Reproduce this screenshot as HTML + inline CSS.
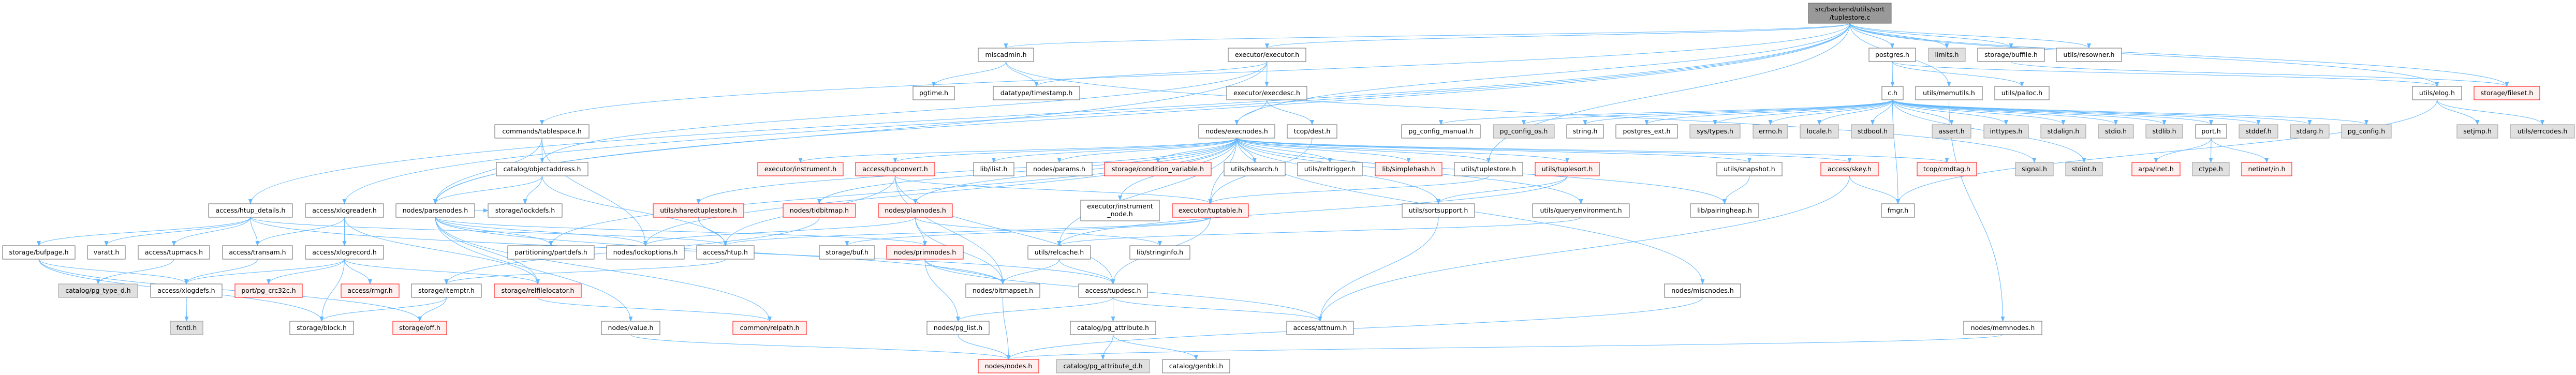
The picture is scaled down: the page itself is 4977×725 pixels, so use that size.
<!DOCTYPE html>
<html><head><meta charset="utf-8">
<style>
html,body{margin:0;padding:0;background:#fff;}
svg{display:block;}
text{font-family:"DejaVu Sans","Liberation Sans",sans-serif;font-size:12.5px;fill:#000;text-anchor:middle;}
.n rect{fill:#fff;stroke:#666;stroke-width:1;}
.r rect{fill:#fff0f0;stroke:#f00;stroke-width:1;}
.g rect{fill:#e0e0e0;stroke:#999;stroke-width:1;}
.root rect{fill:#999;stroke:#666;stroke-width:1;}
#edges path{fill:none;stroke:#63b8ff;stroke-width:1;}
</style></head>
<body>
<svg id="s" width="4977" height="725" viewBox="0 0 4977 725" xmlns="http://www.w3.org/2000/svg">
<defs><marker id="a" markerWidth="10" markerHeight="8" refX="9" refY="4" orient="auto" markerUnits="userSpaceOnUse"><path d="M0,0 L10,4 L0,8 z" fill="#63b8ff"/></marker></defs>
<g id="edges"></g>
<g id="nodes">
<g class="root" id="root"><rect x="3494" y="6" width="160" height="39"/><text x="3574" y="22">src/backend/utils/sort</text><text x="3574" y="38">/tuplestore.c</text></g>

<g class="n" id="miscadmin"><rect x="1890" y="93" width="107" height="26"/><text x="1943.5" y="110">miscadmin.h</text></g>
<g class="n" id="executor"><rect x="2373" y="93" width="150" height="26"/><text x="2448" y="110">executor/executor.h</text></g>
<g class="n" id="postgres"><rect x="3611" y="93" width="90" height="26"/><text x="3656" y="110">postgres.h</text></g>
<g class="g" id="limits"><rect x="3726" y="93" width="71" height="26"/><text x="3761.5" y="110">limits.h</text></g>
<g class="n" id="buffile"><rect x="3821" y="93" width="129" height="26"/><text x="3885.5" y="110">storage/buffile.h</text></g>
<g class="n" id="resowner"><rect x="3973" y="93" width="126" height="26"/><text x="4036" y="110">utils/resowner.h</text></g>

<g class="n" id="pgtime"><rect x="1764" y="167" width="80" height="26"/><text x="1804" y="184">pgtime.h</text></g>
<g class="n" id="timestamp"><rect x="1919" y="167" width="167" height="26"/><text x="2002.5" y="184">datatype/timestamp.h</text></g>
<g class="n" id="execdesc"><rect x="2370" y="167" width="155" height="26"/><text x="2447.5" y="184">executor/execdesc.h</text></g>
<g class="n" id="ch"><rect x="3636" y="167" width="41" height="26"/><text x="3656.5" y="184">c.h</text></g>
<g class="n" id="memutils"><rect x="3701" y="167" width="129" height="26"/><text x="3765.5" y="184">utils/memutils.h</text></g>
<g class="n" id="palloc"><rect x="3854" y="167" width="105" height="26"/><text x="3906.5" y="184">utils/palloc.h</text></g>
<g class="n" id="elog"><rect x="4661" y="167" width="95" height="26"/><text x="4708.5" y="184">utils/elog.h</text></g>
<g class="r" id="fileset"><rect x="4780" y="167" width="127" height="26"/><text x="4843.5" y="184">storage/fileset.h</text></g>

<g class="n" id="tablespace"><rect x="956" y="241" width="182" height="26"/><text x="1047" y="258">commands/tablespace.h</text></g>
<g class="n" id="execnodes"><rect x="2316" y="241" width="147" height="26"/><text x="2389.5" y="258">nodes/execnodes.h</text></g>
<g class="n" id="dest"><rect x="2487" y="241" width="96" height="26"/><text x="2535" y="258">tcop/dest.h</text></g>
<g class="n" id="pgcm"><rect x="2708" y="241" width="152" height="26"/><text x="2784" y="258">pg_config_manual.h</text></g>
<g class="g" id="pgcos"><rect x="2885" y="241" width="118" height="26"/><text x="2944" y="258">pg_config_os.h</text></g>
<g class="n" id="string"><rect x="3027" y="241" width="71" height="26"/><text x="3062.5" y="258">string.h</text></g>
<g class="n" id="pgext"><rect x="3122" y="241" width="119" height="26"/><text x="3181.5" y="258">postgres_ext.h</text></g>
<g class="g" id="systypes"><rect x="3265" y="241" width="97" height="26"/><text x="3313.5" y="258">sys/types.h</text></g>
<g class="g" id="errno"><rect x="3387" y="241" width="67" height="26"/><text x="3420.5" y="258">errno.h</text></g>
<g class="g" id="locale"><rect x="3478" y="241" width="74" height="26"/><text x="3515" y="258">locale.h</text></g>
<g class="g" id="stdbool"><rect x="3577" y="241" width="82" height="26"/><text x="3618" y="258">stdbool.h</text></g>
<g class="g" id="assert"><rect x="3733" y="241" width="75" height="26"/><text x="3770.5" y="258">assert.h</text></g>
<g class="g" id="inttypes"><rect x="3833" y="241" width="86" height="26"/><text x="3876" y="258">inttypes.h</text></g>
<g class="g" id="stdalign"><rect x="3943" y="241" width="87" height="26"/><text x="3986.5" y="258">stdalign.h</text></g>
<g class="g" id="stdio"><rect x="4054" y="241" width="68" height="26"/><text x="4088" y="258">stdio.h</text></g>
<g class="g" id="stdlib"><rect x="4146" y="241" width="71" height="26"/><text x="4181.5" y="258">stdlib.h</text></g>
<g class="n" id="port"><rect x="4242" y="241" width="60" height="26"/><text x="4272" y="258">port.h</text></g>
<g class="g" id="stddef"><rect x="4326" y="241" width="75" height="26"/><text x="4363.5" y="258">stddef.h</text></g>
<g class="g" id="stdarg"><rect x="4425" y="241" width="75" height="26"/><text x="4462.5" y="258">stdarg.h</text></g>
<g class="g" id="pgconfig"><rect x="4524" y="241" width="96" height="26"/><text x="4572" y="258">pg_config.h</text></g>
<g class="g" id="setjmp"><rect x="4747" y="241" width="79" height="26"/><text x="4786.5" y="258">setjmp.h</text></g>
<g class="g" id="errcodes"><rect x="4850" y="241" width="124" height="26"/><text x="4912" y="258">utils/errcodes.h</text></g>

<g class="n" id="objaddr"><rect x="959" y="314" width="177" height="26"/><text x="1047.5" y="331">catalog/objectaddress.h</text></g>
<g class="r" id="instrument"><rect x="1464" y="314" width="165" height="26"/><text x="1546.5" y="331">executor/instrument.h</text></g>
<g class="r" id="tupconvert"><rect x="1653" y="314" width="153" height="26"/><text x="1729.5" y="331">access/tupconvert.h</text></g>
<g class="n" id="ilist"><rect x="1881" y="314" width="78" height="26"/><text x="1920" y="331">lib/ilist.h</text></g>
<g class="n" id="params"><rect x="1983" y="314" width="127" height="26"/><text x="2046.5" y="331">nodes/params.h</text></g>
<g class="r" id="condvar"><rect x="2134" y="314" width="206" height="26"/><text x="2237" y="331">storage/condition_variable.h</text></g>
<g class="n" id="hsearch"><rect x="2365" y="314" width="118" height="26"/><text x="2424" y="331">utils/hsearch.h</text></g>
<g class="n" id="reltrigger"><rect x="2507" y="314" width="125" height="26"/><text x="2569.5" y="331">utils/reltrigger.h</text></g>
<g class="r" id="simplehash"><rect x="2657" y="314" width="129" height="26"/><text x="2721.5" y="331">lib/simplehash.h</text></g>
<g class="n" id="tuplestore"><rect x="2810" y="314" width="132" height="26"/><text x="2876" y="331">utils/tuplestore.h</text></g>
<g class="r" id="tuplesort"><rect x="2966" y="314" width="124" height="26"/><text x="3028" y="331">utils/tuplesort.h</text></g>
<g class="n" id="snapshot"><rect x="3317" y="314" width="126" height="26"/><text x="3380" y="331">utils/snapshot.h</text></g>
<g class="r" id="skey"><rect x="3518" y="314" width="111" height="26"/><text x="3573.5" y="331">access/skey.h</text></g>
<g class="r" id="cmdtag"><rect x="3704" y="314" width="115" height="26"/><text x="3761.5" y="331">tcop/cmdtag.h</text></g>
<g class="g" id="signal"><rect x="3894" y="314" width="73" height="26"/><text x="3930.5" y="331">signal.h</text></g>
<g class="g" id="stdint"><rect x="3991" y="314" width="71" height="26"/><text x="4026.5" y="331">stdint.h</text></g>
<g class="r" id="arpa"><rect x="4119" y="314" width="93" height="26"/><text x="4165.5" y="331">arpa/inet.h</text></g>
<g class="g" id="ctype"><rect x="4236" y="314" width="71" height="26"/><text x="4271.5" y="331">ctype.h</text></g>
<g class="r" id="netinet"><rect x="4331" y="314" width="97" height="26"/><text x="4379.5" y="331">netinet/in.h</text></g>

<g class="n" id="htupdet"><rect x="403" y="394" width="162" height="26"/><text x="484" y="411">access/htup_details.h</text></g>
<g class="n" id="xlogreader"><rect x="590" y="394" width="151" height="26"/><text x="665.5" y="411">access/xlogreader.h</text></g>
<g class="n" id="parsenodes"><rect x="765" y="394" width="152" height="26"/><text x="841" y="411">nodes/parsenodes.h</text></g>
<g class="n" id="lockdefs"><rect x="943" y="394" width="143" height="26"/><text x="1014.5" y="411">storage/lockdefs.h</text></g>
<g class="r" id="sts"><rect x="1262" y="394" width="175" height="26"/><text x="1349.5" y="411">utils/sharedtuplestore.h</text></g>
<g class="r" id="tidbitmap"><rect x="1513" y="394" width="140" height="26"/><text x="1583" y="411">nodes/tidbitmap.h</text></g>
<g class="r" id="plannodes"><rect x="1697" y="394" width="143" height="26"/><text x="1768.5" y="411">nodes/plannodes.h</text></g>
<g class="n" id="instnode"><rect x="2088" y="387" width="152" height="40"/><text x="2164" y="403">executor/instrument</text><text x="2164" y="418">_node.h</text></g>
<g class="r" id="tuptable"><rect x="2265" y="394" width="147" height="26"/><text x="2338.5" y="411">executor/tuptable.h</text></g>
<g class="n" id="sortsupport"><rect x="2709" y="394" width="140" height="26"/><text x="2779" y="411">utils/sortsupport.h</text></g>
<g class="n" id="queryenv"><rect x="2961" y="394" width="187" height="26"/><text x="3054.5" y="411">utils/queryenvironment.h</text></g>
<g class="n" id="pairingheap"><rect x="3266" y="394" width="132" height="26"/><text x="3332" y="411">lib/pairingheap.h</text></g>
<g class="n" id="fmgr"><rect x="3635" y="394" width="64" height="26"/><text x="3667" y="411">fmgr.h</text></g>

<g class="n" id="bufpage"><rect x="5" y="475" width="140" height="26"/><text x="75" y="492">storage/bufpage.h</text></g>
<g class="n" id="varatt"><rect x="169" y="475" width="73" height="26"/><text x="205.5" y="492">varatt.h</text></g>
<g class="n" id="tupmacs"><rect x="267" y="475" width="138" height="26"/><text x="336" y="492">access/tupmacs.h</text></g>
<g class="n" id="transam"><rect x="430" y="475" width="135" height="26"/><text x="497.5" y="492">access/transam.h</text></g>
<g class="n" id="xlogrecord"><rect x="590" y="475" width="151" height="26"/><text x="665.5" y="492">access/xlogrecord.h</text></g>
<g class="n" id="partdefs"><rect x="981" y="475" width="167" height="26"/><text x="1064.5" y="492">partitioning/partdefs.h</text></g>
<g class="n" id="lockoptions"><rect x="1172" y="475" width="150" height="26"/><text x="1247" y="492">nodes/lockoptions.h</text></g>
<g class="n" id="htup"><rect x="1346" y="475" width="111" height="26"/><text x="1401.5" y="492">access/htup.h</text></g>
<g class="n" id="buf"><rect x="1583" y="475" width="107" height="26"/><text x="1636.5" y="492">storage/buf.h</text></g>
<g class="r" id="primnodes"><rect x="1713" y="475" width="148" height="26"/><text x="1787" y="492">nodes/primnodes.h</text></g>
<g class="n" id="relcache"><rect x="1986" y="475" width="121" height="26"/><text x="2046.5" y="492">utils/relcache.h</text></g>
<g class="n" id="stringinfo"><rect x="2183" y="475" width="116" height="26"/><text x="2241" y="492">lib/stringinfo.h</text></g>

<g class="g" id="pgtyped"><rect x="113" y="549" width="153" height="26"/><text x="189.5" y="566">catalog/pg_type_d.h</text></g>
<g class="n" id="xlogdefs"><rect x="291" y="549" width="138" height="26"/><text x="360" y="566">access/xlogdefs.h</text></g>
<g class="r" id="crc"><rect x="454" y="549" width="130" height="26"/><text x="519" y="566">port/pg_crc32c.h</text></g>
<g class="r" id="rmgr"><rect x="659" y="549" width="112" height="26"/><text x="715" y="566">access/rmgr.h</text></g>
<g class="n" id="itemptr"><rect x="795" y="549" width="135" height="26"/><text x="862.5" y="566">storage/itemptr.h</text></g>
<g class="r" id="relfile"><rect x="955" y="549" width="168" height="26"/><text x="1039" y="566">storage/relfilelocator.h</text></g>
<g class="n" id="bitmapset"><rect x="1866" y="549" width="143" height="26"/><text x="1937.5" y="566">nodes/bitmapset.h</text></g>
<g class="n" id="tupdesc"><rect x="2084" y="549" width="133" height="26"/><text x="2150.5" y="566">access/tupdesc.h</text></g>
<g class="n" id="miscnodes"><rect x="3216" y="549" width="147" height="26"/><text x="3289.5" y="566">nodes/miscnodes.h</text></g>

<g class="g" id="fcntl"><rect x="329" y="621" width="63" height="26"/><text x="360.5" y="638">fcntl.h</text></g>
<g class="n" id="block"><rect x="560" y="621" width="123" height="26"/><text x="621.5" y="638">storage/block.h</text></g>
<g class="r" id="off"><rect x="759" y="621" width="104" height="26"/><text x="811" y="638">storage/off.h</text></g>
<g class="n" id="value"><rect x="1162" y="621" width="113" height="26"/><text x="1218.5" y="638">nodes/value.h</text></g>
<g class="r" id="relpath"><rect x="1416" y="621" width="142" height="26"/><text x="1487" y="638">common/relpath.h</text></g>
<g class="n" id="pglist"><rect x="1791" y="621" width="120" height="26"/><text x="1851" y="638">nodes/pg_list.h</text></g>
<g class="n" id="pgattr"><rect x="2068" y="621" width="165" height="26"/><text x="2150.5" y="638">catalog/pg_attribute.h</text></g>
<g class="n" id="attnum"><rect x="2486" y="621" width="129" height="26"/><text x="2550.5" y="638">access/attnum.h</text></g>
<g class="n" id="memnodes"><rect x="3794" y="621" width="151" height="26"/><text x="3869.5" y="638">nodes/memnodes.h</text></g>

<g class="r" id="nodesh"><rect x="1890" y="695" width="117" height="26"/><text x="1948.5" y="712">nodes/nodes.h</text></g>
<g class="g" id="pgattrd"><rect x="2041" y="695" width="180" height="26"/><text x="2131" y="712">catalog/pg_attribute_d.h</text></g>
<g class="n" id="genbki"><rect x="2246" y="695" width="130" height="26"/><text x="2311" y="712">catalog/genbki.h</text></g>
</g>
</svg>
<script>
(function(){
var E=[
["root","postgres"],["root","limits"],["root","buffile"],["root","resowner"],["root","memutils"],["root","executor"],["root","miscadmin"],["root","tablespace"],["root","htupdet"],["root","xlogreader"],["root","parsenodes"],["root","execnodes"],["root","tuplestore"],["root","elog"],["root","fileset"],
["postgres","ch"],["postgres","palloc"],["postgres","elog"],
["ch","pgcm"],["ch","pgcos"],["ch","string"],["ch","pgext"],["ch","systypes"],["ch","errno"],["ch","locale"],["ch","stdbool"],["ch","assert"],["ch","inttypes"],["ch","stdalign"],["ch","stdio"],["ch","stdlib"],["ch","port"],["ch","stddef"],["ch","stdarg"],["ch","pgconfig"],["ch","stdint"],["ch","fmgr"],
["elog","setjmp"],["elog","errcodes"],["elog","fmgr"],["buffile","fileset"],["memutils","memnodes"],
["port","arpa"],["port","ctype"],["port","netinet"],
["miscadmin","pgtime"],["miscadmin","timestamp"],["miscadmin","signal"],
["executor","execdesc"],["executor","timestamp"],["executor","parsenodes"],["executor","objaddr"],
["execdesc","execnodes"],["execdesc","dest"],
["execnodes","instrument"],["execnodes","tupconvert"],["execnodes","ilist"],["execnodes","params"],["execnodes","condvar"],["execnodes","hsearch"],["execnodes","reltrigger"],["execnodes","simplehash"],["execnodes","tuplestore"],["execnodes","tuplesort"],["execnodes","queryenv"],["execnodes","miscnodes"],["execnodes","sts"],["execnodes","tidbitmap"],["execnodes","plannodes"],["execnodes","instnode"],["execnodes","tuptable"],["execnodes","skey"],["execnodes","cmdtag"],["execnodes","snapshot"],["execnodes","partdefs"],["execnodes","lockoptions"],["execnodes","relcache"],["execnodes","sortsupport"],["execnodes","pairingheap"],
["dest","tuptable"],
["tablespace","objaddr"],["tablespace","parsenodes"],["tablespace","lockoptions"],
["objaddr","parsenodes"],["objaddr","lockdefs"],["objaddr","htup"],
["htupdet","bufpage"],["htupdet","varatt"],["htupdet","tupmacs"],["htupdet","transam"],["htupdet","htup"],["htupdet","tupdesc"],
["xlogreader","transam"],["xlogreader","xlogrecord"],["xlogreader","relfile"],
["xlogrecord","xlogdefs"],["xlogrecord","crc"],["xlogrecord","rmgr"],["xlogrecord","block"],["xlogrecord","relfile"],
["bufpage","xlogdefs"],["bufpage","block"],["bufpage","off"],["tupmacs","pgtyped"],["transam","xlogdefs"],["xlogdefs","fcntl"],
["itemptr","block"],["itemptr","off"],
["parsenodes","partdefs"],["parsenodes","lockoptions"],["parsenodes","primnodes"],["parsenodes","value"],["parsenodes","relpath"],["parsenodes","bitmapset"],["parsenodes","lockdefs"],["parsenodes","relfile"],
["relfile","relpath"],["value","nodesh"],["sts","htup"],["tidbitmap","itemptr"],
["htup","itemptr"],
["plannodes","primnodes"],["plannodes","bitmapset"],["plannodes","lockoptions"],["plannodes","stringinfo"],
["primnodes","bitmapset"],["primnodes","pglist"],["primnodes","attnum"],
["relcache","bitmapset"],["relcache","tupdesc"],
["tuptable","tupdesc"],["tuptable","htup"],["tuptable","buf"],
["tupconvert","tupdesc"],["tupconvert","htup"],["tupconvert","tuptable"],["tupconvert","bitmapset"],
["tupdesc","pgattr"],["tupdesc","pglist"],["tupdesc","attnum"],
["pgattr","pgattrd"],["pgattr","genbki"],
["pglist","nodesh"],["bitmapset","nodesh"],
["sortsupport","attnum"],["tuplesort","sortsupport"],["tuplesort","relcache"],["tuplestore","tuptable"],
["snapshot","pairingheap"],["skey","fmgr"],["skey","attnum"],
["memnodes","nodesh"],["miscnodes","nodesh"],["queryenv","relcache"]
];
function box(id){var r=document.querySelector('#'+id+' rect');return {x:+r.getAttribute('x'),y:+r.getAttribute('y'),w:+r.getAttribute('width'),h:+r.getAttribute('height')};}
var g=document.getElementById('edges'),ns="http://www.w3.org/2000/svg";
E.forEach(function(e){
 var a=box(e[0]),b=box(e[1]);
 var x1=a.x+a.w/2,y1=a.y+a.h,x2=b.x+b.w/2,y2=b.y;
 var p=document.createElementNS(ns,'path');
 var d;
 if(Math.abs(b.y-a.y)<8){
   y1=a.y+a.h/2;y2=b.y+b.h/2;var right=x2>x1;x1=right?a.x+a.w:a.x;x2=right?b.x:b.x+b.w;
   d="M"+x1+","+y1+" L"+x2+","+y2;
 } else {
   var dy=(y2-y1)*0.5;
   d="M"+x1+","+y1+" C"+x1+","+(y1+dy)+" "+x2+","+(y2-dy)+" "+x2+","+y2;
 }
 p.setAttribute('d',d);p.setAttribute('marker-end','url(#a)');
 g.appendChild(p);
});
// fit text inside boxes
document.querySelectorAll('#nodes g').forEach(function(gr){
 var r=gr.querySelector('rect'),w=+r.getAttribute('width');
 gr.querySelectorAll('text').forEach(function(t){
   var bb=t.getComputedTextLength();
   if(bb>w-14){t.setAttribute('textLength',w-14);t.setAttribute('lengthAdjust','spacingAndGlyphs');}
 });
});
})();
</script>
</body></html>
